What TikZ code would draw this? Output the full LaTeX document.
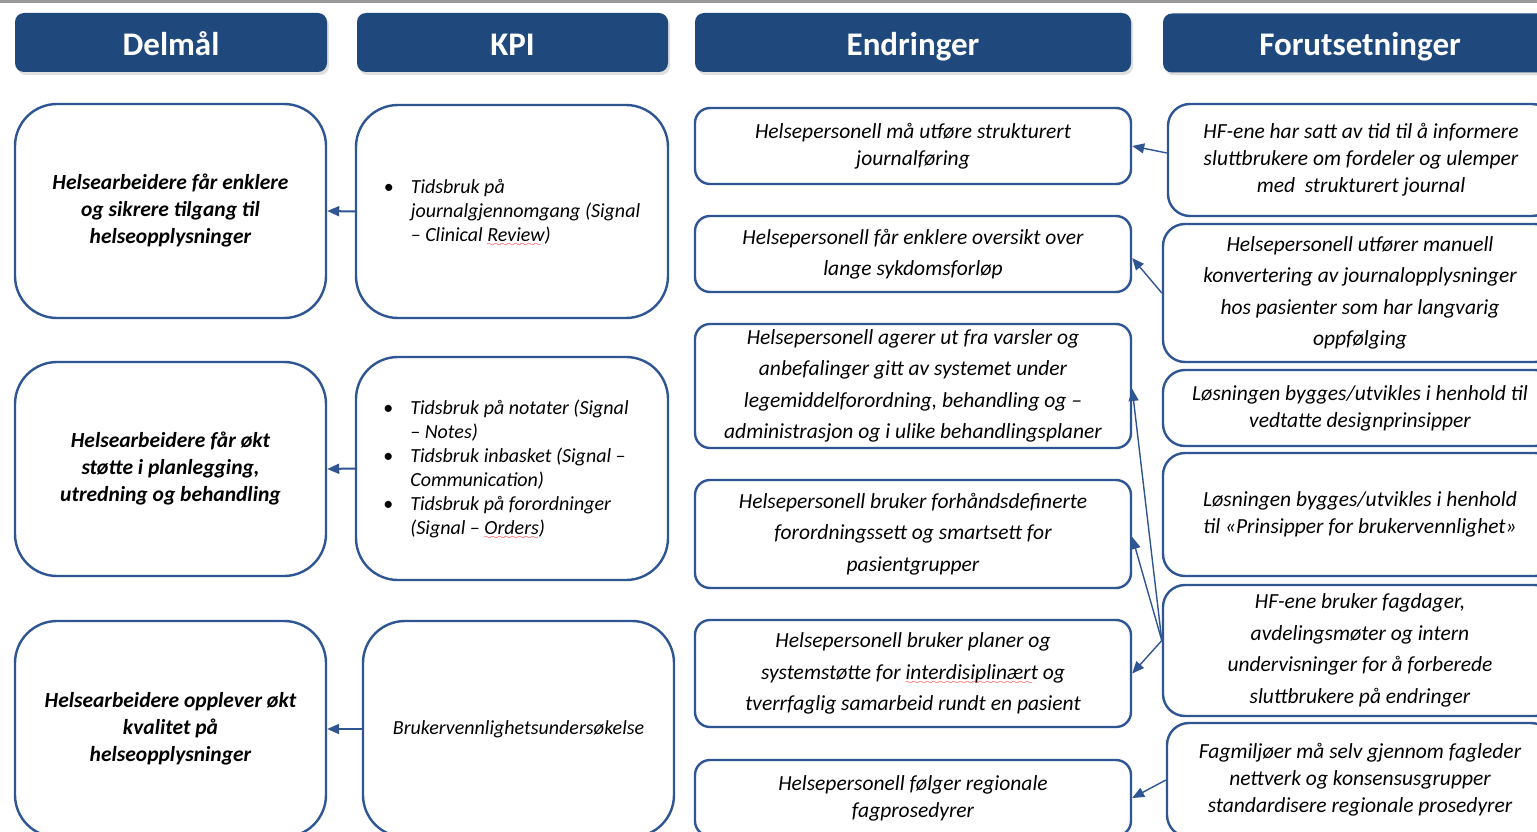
\documentclass[tikz,border=0pt]{standalone}
\usepackage{fontspec}
\setmainfont{Carlito}
\usetikzlibrary{arrows.meta, positioning, calc, shadows}
\definecolor{hdrblue}{HTML}{1F497D}
\definecolor{edgeblue}{HTML}{2F5593}

% spell-check squiggle and bullet lines
\newsavebox{\wavebox}
\font\wavefont=lasy6 at 8pt
\newcommand{\redwave}[1]{\sbox{\wavebox}{#1}%
  \makebox[0pt][l]{\textcolor{red}{\raisebox{-5pt}[0pt][0pt]{\hbox to \wd\wavebox{\leaders\hbox{\wavefont\char58}\hfil}}}}%
  \usebox{\wavebox}}
\newcommand{\bul}{\makebox[27pt][l]{\upshape\textbullet}}
\newcommand{\ind}{\hspace*{27pt}}

\tikzset{
  header/.style={fill=hdrblue, rounded corners=9pt, text=white, inner sep=0pt,
    text height=26pt, text depth=0pt, font=\fontsize{33}{40}\selectfont\bfseries,
    drop shadow={shadow xshift=2pt, shadow yshift=-3pt, opacity=0.25}},
  box/.style={draw=edgeblue, line width=2.4pt, fill=white, align=center, inner sep=0pt},
  goalbox/.style={box, rounded corners=42pt, font=\fontsize{21.5}{27}\selectfont\bfseries\itshape},
  kpibox/.style={box, rounded corners=42pt, align=left, font=\fontsize{20}{24}\selectfont\itshape},
  changebox/.style={box, rounded corners=15pt, font=\fontsize{21.5}{27}\selectfont\itshape},
  condbox/.style={box, rounded corners=22pt, font=\fontsize{21.5}{27}\selectfont\itshape},
  loose/.style={font=\fontsize{21.5}{31.5}\selectfont\itshape},
  link/.style={draw=edgeblue, line width=1.4pt, -{Triangle[length=12pt,width=10pt]}},
  goallink/.style={link, line width=2pt}
}

\begin{document}
\begin{tikzpicture}[x=1pt, y=-1pt]
    \useasboundingbox (0,0) rectangle (1537,832);
    \clip (0,0) rectangle (1537,832);
    \fill[white] (0,0) rectangle (1537,832);
    \fill[gray!80] (0,0) rectangle (1537,3);

    % Column headers
    \node[header, minimum width=312pt, minimum height=59pt] (hdelmal) at (171,42.5) {Delmål};
    \node[header, minimum width=311pt, minimum height=59pt] (hkpi) at (512.5,42.5) {KPI};
    \node[header, minimum width=436pt, minimum height=59pt] (hendr) at (913,42.5) {Endringer};
    \node[header, minimum width=394pt, minimum height=59pt] (hforut) at (1360,43) {Forutsetninger};

    % Delmål
    \node[goalbox, minimum width=311pt, minimum height=214pt] (d1) at (170.5,211)
        {Helsearbeidere får enklere\\og sikrere tilgang til\\helseopplysninger};
    \node[goalbox, minimum width=311pt, minimum height=214pt] (d2) at (170.5,469)
        {Helsearbeidere får økt\\støtte i planlegging,\\utredning og behandling};
    \node[goalbox, minimum width=311pt, minimum height=216pt] (d3) at (170.5,729)
        {Helsearbeidere opplever økt\\kvalitet på\\helseopplysninger};

    % KPI
    \node[kpibox, minimum width=312pt, minimum height=213pt] (k1) at (512,211.5)
        {\bul Tidsbruk på\\\ind journalgjennomgang (Signal\\\ind – Clinical \redwave{Review})};
    \node[kpibox, minimum width=312pt, minimum height=223pt] (k2) at (512,468.5)
        {\bul Tidsbruk på notater (Signal\hspace*{12pt}\\\ind – Notes)\\
         \bul Tidsbruk inbasket (Signal –\\\ind Communication)\\
         \bul Tidsbruk på forordninger\\\ind (Signal – \redwave{Orders})};
    \node[kpibox, align=center, minimum width=311pt, minimum height=216pt] (k3) at (518.5,729)
        {Brukervennlighetsundersøkelse};

    % Endringer
    \node[changebox, minimum width=436pt, minimum height=76pt] (e1) at (913,146)
        {Helsepersonell må utføre strukturert\\journalføring};
    \node[changebox, loose, minimum width=436pt, minimum height=76pt] (e2) at (913,254)
        {Helsepersonell får enklere oversikt over\\lange sykdomsforløp};
    \node[changebox, loose, minimum width=436pt, minimum height=124pt] (e3) at (913,386)
        {Helsepersonell agerer ut fra varsler og\\anbefalinger gitt av systemet under\\legemiddelforordning, behandling og –\\administrasjon og i ulike behandlingsplaner};
    \node[changebox, loose, minimum width=436pt, minimum height=108pt] (e4) at (913,534)
        {Helsepersonell bruker forhåndsdefinerte\\forordningssett og smartsett for\\pasientgrupper};
    \node[changebox, loose, minimum width=436pt, minimum height=107pt] (e5) at (913,673.5)
        {Helsepersonell bruker planer og\\systemstøtte for \redwave{interdisiplinært} og\\tverrfaglig samarbeid rundt en pasient};
    \node[changebox, minimum width=436pt, minimum height=76pt] (e6) at (913,798)
        {Helsepersonell følger regionale\\fagprosedyrer};

    % Forutsetninger
    \node[condbox, minimum width=386pt, minimum height=112pt] (f1) at (1361,160)
        {HF-ene har satt av tid til å informere\\sluttbrukere om fordeler og ulemper\\med\ \ strukturert journal};
    \node[condbox, loose, minimum width=394pt, minimum height=138pt] (f2) at (1360,293)
        {Helsepersonell utfører manuell\\konvertering av journalopplysninger\\hos pasienter som har langvarig\\oppfølging};
    \node[condbox, minimum width=394pt, minimum height=76pt] (f3) at (1360,408)
        {Løsningen bygges/utvikles i henhold til\\vedtatte designprinsipper};
    \node[condbox, minimum width=394pt, minimum height=123pt] (f4) at (1360,514.5)
        {Løsningen bygges/utvikles i henhold\\til «Prinsipper for brukervennlighet»};
    \node[condbox, loose, minimum width=394pt, minimum height=131pt] (f5) at (1360,650.5)
        {HF-ene bruker fagdager,\\avdelingsmøter og intern\\undervisninger for å forberede\\sluttbrukere på endringer};
    \node[condbox, minimum width=386pt, minimum height=114pt] (f6) at (1360,780)
        {Fagmiljøer må selv gjennom fagleder\\nettverk og konsensusgrupper\\standardisere regionale prosedyrer};

    % KPI -> Delmål
    \draw[goallink] (k1.west) -- (d1.east);
    \draw[goallink] (k2.west) -- (d2.east);
    \draw[goallink] (k3.west) -- (d3.east);

    % Forutsetninger -> Endringer
    \draw[link] ([yshift=7pt]f1.west) -- (e1.east);
    \draw[link] (f2.west) -- ([yshift=-4pt]e2.east);
    \draw[link] ([yshift=10pt]f5.west) -- ([yshift=-3pt]e3.east);
    \draw[link] ([yshift=10pt]f5.west) -- ([yshift=-3pt]e4.east);
    \draw[link] ([yshift=10pt]f5.west) -- (e5.east);
    \draw[link] (f6.west) -- (e6.east);
\end{tikzpicture}
\end{document}
